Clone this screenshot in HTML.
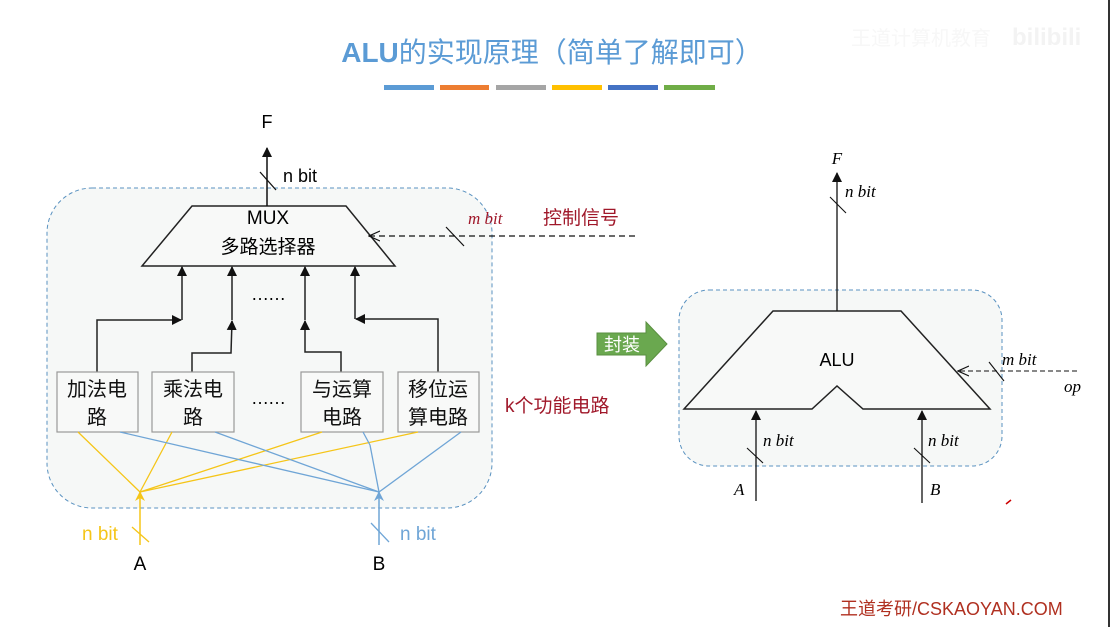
<!DOCTYPE html>
<html><head><meta charset="utf-8"><style>
body{margin:0;width:1114px;height:627px;overflow:hidden;background:#fff;}
svg{display:block}
text{font-family:"Liberation Sans","Noto Sans CJK SC",sans-serif;}
.it{font-family:"Liberation Serif","Noto Serif CJK SC",serif;font-style:italic}
</style></head><body>
<svg width="1114" height="627" viewBox="0 0 1114 627">
<defs>
<marker id="ab" markerWidth="10" markerHeight="10" refX="9" refY="5" orient="auto" markerUnits="userSpaceOnUse"><path d="M0,0 L10,5 L0,10 z" fill="#111"/></marker>
<marker id="ao" markerWidth="12" markerHeight="12" refX="11" refY="6" orient="auto" markerUnits="userSpaceOnUse"><path d="M0,1 L11,6 L0,11" fill="none" stroke="#111" stroke-width="1.2"/></marker>
<marker id="ay" markerWidth="10" markerHeight="14" refX="9" refY="5" orient="auto" markerUnits="userSpaceOnUse"><path d="M0,0 L10,5 L0,10 L3,5 z" fill="#f5c518"/></marker>
<marker id="abl" markerWidth="10" markerHeight="14" refX="9" refY="5" orient="auto" markerUnits="userSpaceOnUse"><path d="M0,0 L10,5 L0,10 L3,5 z" fill="#6fa5d6"/></marker>
</defs>
<text x="552" y="62" text-anchor="middle" font-size="28" fill="#5b9bd5" font-weight="bold">ALU<tspan font-weight="normal">的实现原理（简单了解即可）</tspan></text>
<rect x="384" y="85" width="50" height="5" fill="#5b9bd5"/>
<rect x="440" y="85" width="49" height="5" fill="#ed7d31"/>
<rect x="496" y="85" width="50" height="5" fill="#a5a5a5"/>
<rect x="552" y="85" width="50" height="5" fill="#ffc000"/>
<rect x="608" y="85" width="50" height="5" fill="#4472c4"/>
<rect x="664" y="85" width="51" height="5" fill="#70ad47"/>
<text x="851" y="45" font-size="20" fill="#f7f7f7">王道计算机教育</text>
<text x="1012" y="45" font-size="24" font-weight="bold" fill="#f3f3f3">bilibili</text>
<line x1="1109" y1="0" x2="1109" y2="627" stroke="#333" stroke-width="2"/>

<!-- left container -->
<rect x="47" y="188" width="445" height="320" rx="45" fill="#f6f8f7" stroke="#5a92c0" stroke-dasharray="4,3" stroke-width="1"/>
<polygon points="192,206 346,206 395,266 142,266" fill="#f8f9f8" stroke="#222" stroke-width="1.5"/>
<text x="268" y="224" text-anchor="middle" font-size="19">MUX</text>
<text x="268" y="253" text-anchor="middle" font-size="19">多路选择器</text>
<line x1="267" y1="206" x2="267" y2="148" stroke="#111" stroke-width="1.5" marker-end="url(#ab)"/>
<line x1="260" y1="172" x2="276" y2="190" stroke="#111" stroke-width="1.3"/>
<text x="267" y="128" text-anchor="middle" font-size="18">F</text>
<text x="283" y="182" font-size="18">n bit</text>
<line x1="635" y1="236" x2="369" y2="236" stroke="#111" stroke-width="1.3" stroke-dasharray="6,4" marker-end="url(#ao)"/>
<line x1="446" y1="227" x2="464" y2="246" stroke="#111" stroke-width="1.2"/>
<text x="468" y="224" font-size="17" fill="#a0182a" class="it">m bit</text>
<text x="543" y="224" font-size="19" fill="#a0182a">控制信号</text>

<g stroke="#222" stroke-width="1.5" fill="none">
<polyline points="97,372 97,320 181,320" marker-end="url(#ab)"/>
<line x1="182" y1="320" x2="182" y2="267" marker-end="url(#ab)"/>
<polyline points="192,372 192,353 231,353 232,321" marker-end="url(#ab)"/>
<line x1="232" y1="320" x2="232" y2="267" marker-end="url(#ab)"/>
<polyline points="341,372 341,352 305,352 305,321" marker-end="url(#ab)"/>
<line x1="305" y1="320" x2="305" y2="267" marker-end="url(#ab)"/>
<polyline points="438,372 438,319 356,319" marker-end="url(#ab)"/>
<line x1="355" y1="319" x2="355" y2="267" marker-end="url(#ab)"/>
</g>
<text x="268" y="300" text-anchor="middle" font-size="18" letter-spacing="-1">……</text>

<g stroke="#999" stroke-width="1.2" fill="#f8f9f8">
<rect x="57" y="372" width="81" height="60"/>
<rect x="152" y="372" width="82" height="60"/>
<rect x="301" y="372" width="82" height="60"/>
<rect x="398" y="372" width="81" height="60"/>
</g>
<g font-size="20" text-anchor="middle" fill="#111">
<text x="97" y="396">加法电</text><text x="97" y="424">路</text>
<text x="193" y="396">乘法电</text><text x="193" y="424">路</text>
<text x="342" y="396">与运算</text><text x="342" y="424">电路</text>
<text x="438" y="396">移位运</text><text x="438" y="424">算电路</text>
</g>
<text x="268" y="404" text-anchor="middle" font-size="18" letter-spacing="-1">……</text>
<text x="505" y="412" font-size="19" fill="#a0182a">k个功能电路</text>

<g stroke="#f5c518" stroke-width="1.3">
<line x1="78" y1="432" x2="140" y2="492"/>
<line x1="172" y1="432" x2="140" y2="492"/>
<line x1="322" y1="432" x2="140" y2="492"/>
<line x1="418" y1="432" x2="140" y2="492"/>
</g>
<g stroke="#6fa5d6" stroke-width="1.3" fill="none">
<line x1="120" y1="432" x2="379" y2="492"/>
<line x1="215" y1="432" x2="379" y2="492"/>
<line x1="363" y1="432" x2="370" y2="445"/><line x1="370" y1="445" x2="379" y2="492"/>
<line x1="461" y1="432" x2="379" y2="492"/>
</g>
<line x1="140" y1="545" x2="140" y2="492" stroke="#f5c518" stroke-width="1.5" marker-end="url(#ay)"/>
<line x1="132" y1="527" x2="149" y2="542" stroke="#f5c518" stroke-width="1.3"/>
<text x="82" y="540" font-size="19" fill="#f5c518">n bit</text>
<text x="140" y="570" text-anchor="middle" font-size="19">A</text>
<line x1="379" y1="545" x2="379" y2="492" stroke="#6fa5d6" stroke-width="1.5" marker-end="url(#abl)"/>
<line x1="371" y1="523" x2="389" y2="542" stroke="#6fa5d6" stroke-width="1.3"/>
<text x="400" y="540" font-size="19" fill="#6fa5d6">n bit</text>
<text x="379" y="570" text-anchor="middle" font-size="19">B</text>

<!-- green arrow -->
<polygon points="597,333 646,333 646,322 667,344 646,366 646,355 597,355" fill="#6aa84f" stroke="#5a8f40"/>
<text x="622" y="351" text-anchor="middle" font-size="18" fill="#fff">封装</text>

<!-- right -->
<rect x="679" y="290" width="323" height="176" rx="30" fill="#f6f8f7" stroke="#5a92c0" stroke-dasharray="4,3" stroke-width="1"/>
<polygon points="773,311 901,311 990,409 863,409 837,386 812,409 684,409" fill="#f8f9f8" stroke="#222" stroke-width="1.5"/>
<text x="837" y="366" text-anchor="middle" font-size="18">ALU</text>
<line x1="837" y1="311" x2="837" y2="173" stroke="#111" stroke-width="1.3" marker-end="url(#ab)"/>
<line x1="830" y1="197" x2="846" y2="213" stroke="#111" stroke-width="1.1"/>
<text x="837" y="164" text-anchor="middle" font-size="17" class="it">F</text>
<text x="845" y="197" font-size="17" class="it">n bit</text>
<line x1="756" y1="501" x2="756" y2="411" stroke="#111" stroke-width="1.3" marker-end="url(#ab)"/>
<line x1="747" y1="448" x2="763" y2="463" stroke="#111" stroke-width="1.1"/>
<text x="763" y="446" font-size="17" class="it">n bit</text>
<text x="734" y="495" font-size="17" class="it">A</text>
<line x1="922" y1="503" x2="922" y2="411" stroke="#111" stroke-width="1.3" marker-end="url(#ab)"/>
<line x1="914" y1="448" x2="930" y2="463" stroke="#111" stroke-width="1.1"/>
<text x="928" y="446" font-size="17" class="it">n bit</text>
<text x="930" y="495" font-size="17" class="it">B</text>
<line x1="1077" y1="371" x2="958" y2="371" stroke="#111" stroke-width="1.1" stroke-dasharray="5,3" marker-end="url(#ao)"/>
<line x1="989" y1="362" x2="1004" y2="381" stroke="#111" stroke-width="1.1"/>
<text x="1002" y="365" font-size="17" class="it">m bit</text>
<text x="1064" y="392" font-size="17" class="it">op</text>
<line x1="1006" y1="504" x2="1011" y2="500" stroke="#c00" stroke-width="1.5"/>

<text x="840" y="615" font-size="18" fill="#b03020">王道考研/CSKAOYAN.COM</text>
</svg>
</body></html>
